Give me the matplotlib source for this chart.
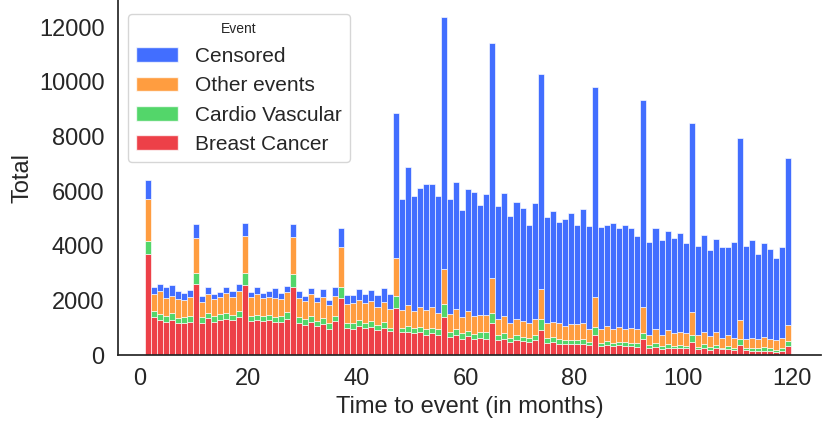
import numpy as np
import seaborn as sns
from matplotlib import pyplot as plt
from matplotlib.patches import Patch

# stacked tops (cumulative: red, +green, +orange, +blue)
red_top = [3700, 1380, 1290, 1230, 1300, 1160, 1180, 1230, 2600, 1160, 1350, 1230, 1280, 1340, 1270, 1400,
           2560, 1245, 1280, 1245, 1280, 1210, 1210, 1340, 2510, 1160, 1110, 1220, 1050, 1150, 960, 1245,
           2090, 990, 975, 1060, 990, 1025, 915, 990, 880, 1720, 830, 855, 820, 840, 755, 795, 755, 1400,
           670, 755, 610, 695, 575, 645, 610, 1160, 550, 610, 475, 550, 510, 465, 550, 915, 450, 465, 425,
           400, 425, 415, 425, 365, 730, 330, 390, 330, 355, 330, 340, 305, 575, 245, 305, 220, 280, 255,
           280, 245, 490, 210, 280, 195, 255, 210, 230, 195, 355, 185, 170, 170, 170, 160, 110, 160, 330]
green_top = [4160, 1600, 1510, 1430, 1525, 1370, 1390, 1440, 3000, 1380, 1550, 1415, 1490, 1550, 1475, 1610,
             3000, 1450, 1475, 1440, 1465, 1400, 1415, 1575, 2965, 1380, 1320, 1450, 1245, 1370, 1160, 1450,
             2510, 1195, 1195, 1280, 1180, 1245, 1100, 1230, 1010, 2160, 1000, 1075, 1010, 1040, 965, 1000, 940, 1855,
             865, 940, 795, 890, 770, 865, 830, 1525, 755, 805, 645, 745, 670, 645, 745, 1305, 645, 660, 600,
             560, 560, 550, 585, 490, 1040, 430, 510, 450, 475, 475, 450, 430, 815, 355, 430, 330, 400, 330,
             355, 340, 730, 305, 400, 295, 390, 280, 340, 280, 575, 255, 245, 245, 305, 255, 205, 255, 525]
orange_top = [5700, 2230, 2330, 2090, 2180, 2040, 2010, 2110, 4280, 1950, 2240, 2040, 2110, 2280, 2135, 2355,
              4370, 2120, 2245, 2100, 2110, 2075, 2060, 2305, 4320, 2090, 1980, 2230, 1940, 2135, 1830, 2180,
              3940, 1880, 1900, 2000, 1915, 1980, 1760, 1940, 1685, 3550, 1670, 1840, 1620, 1745, 1650, 1745, 1560, 3160,
              1500, 1685, 1380, 1600, 1430, 1465, 1465, 2830, 1340, 1430, 1160, 1340, 1245, 1160, 1340, 2415, 1185, 1220, 1170,
              1060, 1135, 1135, 1160, 975, 2110, 940, 1060, 975, 1040, 965, 1000, 940, 1770, 755, 965, 755, 905, 795,
              865, 795, 1585, 720, 865, 695, 855, 645, 730, 645, 1280, 610, 645, 600, 670, 610, 550, 620, 1110]
total = [6400, 2510, 2600, 2480, 2560, 2355, 2270, 2400, 4800, 2180, 2480, 2220, 2305, 2490, 2340, 2590,
         4820, 2305, 2510, 2290, 2330, 2465, 2290, 2540, 4810, 2330, 2170, 2465, 2135, 2415, 2025, 2480,
         4640, 2185, 2195, 2430, 2235, 2390, 2185, 2465, 2220, 8850, 5730, 6890, 5820, 6100, 6250, 6260, 5820, 12380,
         5730, 6320, 5310, 6060, 5980, 5510, 5890, 11400, 5450, 5920, 5090, 5600, 5400, 4760, 5575, 10280, 5060, 5270, 4880,
         4980, 5185, 4760, 5330, 4735, 9800, 4700, 4770, 4830, 4650, 4760, 4660, 4370, 9330, 4150, 4660, 4210, 4550, 4280,
         4465, 4110, 8480, 3990, 4400, 3830, 4245, 3940, 3940, 4135, 7940, 3990, 4195, 3710, 4110, 3890, 3550, 3940, 7200]

events = ['Breast Cancer', 'Cardio Vascular', 'Other events', 'Censored']

tops = np.array([red_top, green_top, orange_top, total], dtype=float)
counts = np.diff(np.vstack([np.zeros(len(total)), tops]), axis=0)
edges = np.linspace(1, 120, len(total) + 1)
width = edges[1] - edges[0]

sns.set_theme(style='white')
plt.rcParams['font.family'] = ['Liberation Sans', 'DejaVu Sans']
colors = sns.color_palette('bright')[:4]
colors = [colors[3], colors[2], colors[1], colors[0]]

fig = plt.figure(figsize=(8.23, 4.30), dpi=100)
ax = fig.add_axes([0.143, 0.174, 0.855, 0.826])

bottom = np.zeros(len(total))
for ev, c, vals in zip(events, colors, counts):
    ax.bar(edges[:-1], vals, width=width, bottom=bottom, align='edge',
           color=c, alpha=0.75, edgecolor='white', linewidth=0.6)
    bottom += vals

ax.set_xlim(-4, 125.5)
ax.set_ylim(0, 12990)
ax.set_xticks([0, 20, 40, 60, 80, 100, 120])
ax.tick_params(labelsize=17)
ax.set_xlabel('Time to event (in months)', fontsize=17)
ax.set_ylabel('Total', fontsize=17)
sns.despine(ax=ax)

handles = [Patch(facecolor=c, alpha=0.75, edgecolor='white') for c in colors[::-1]]
ax.legend(handles, events[::-1], title='Event', loc='upper left', fontsize=15,
          title_fontsize=10, bbox_to_anchor=(0.0, 0.99))

fig.savefig('out.png')
